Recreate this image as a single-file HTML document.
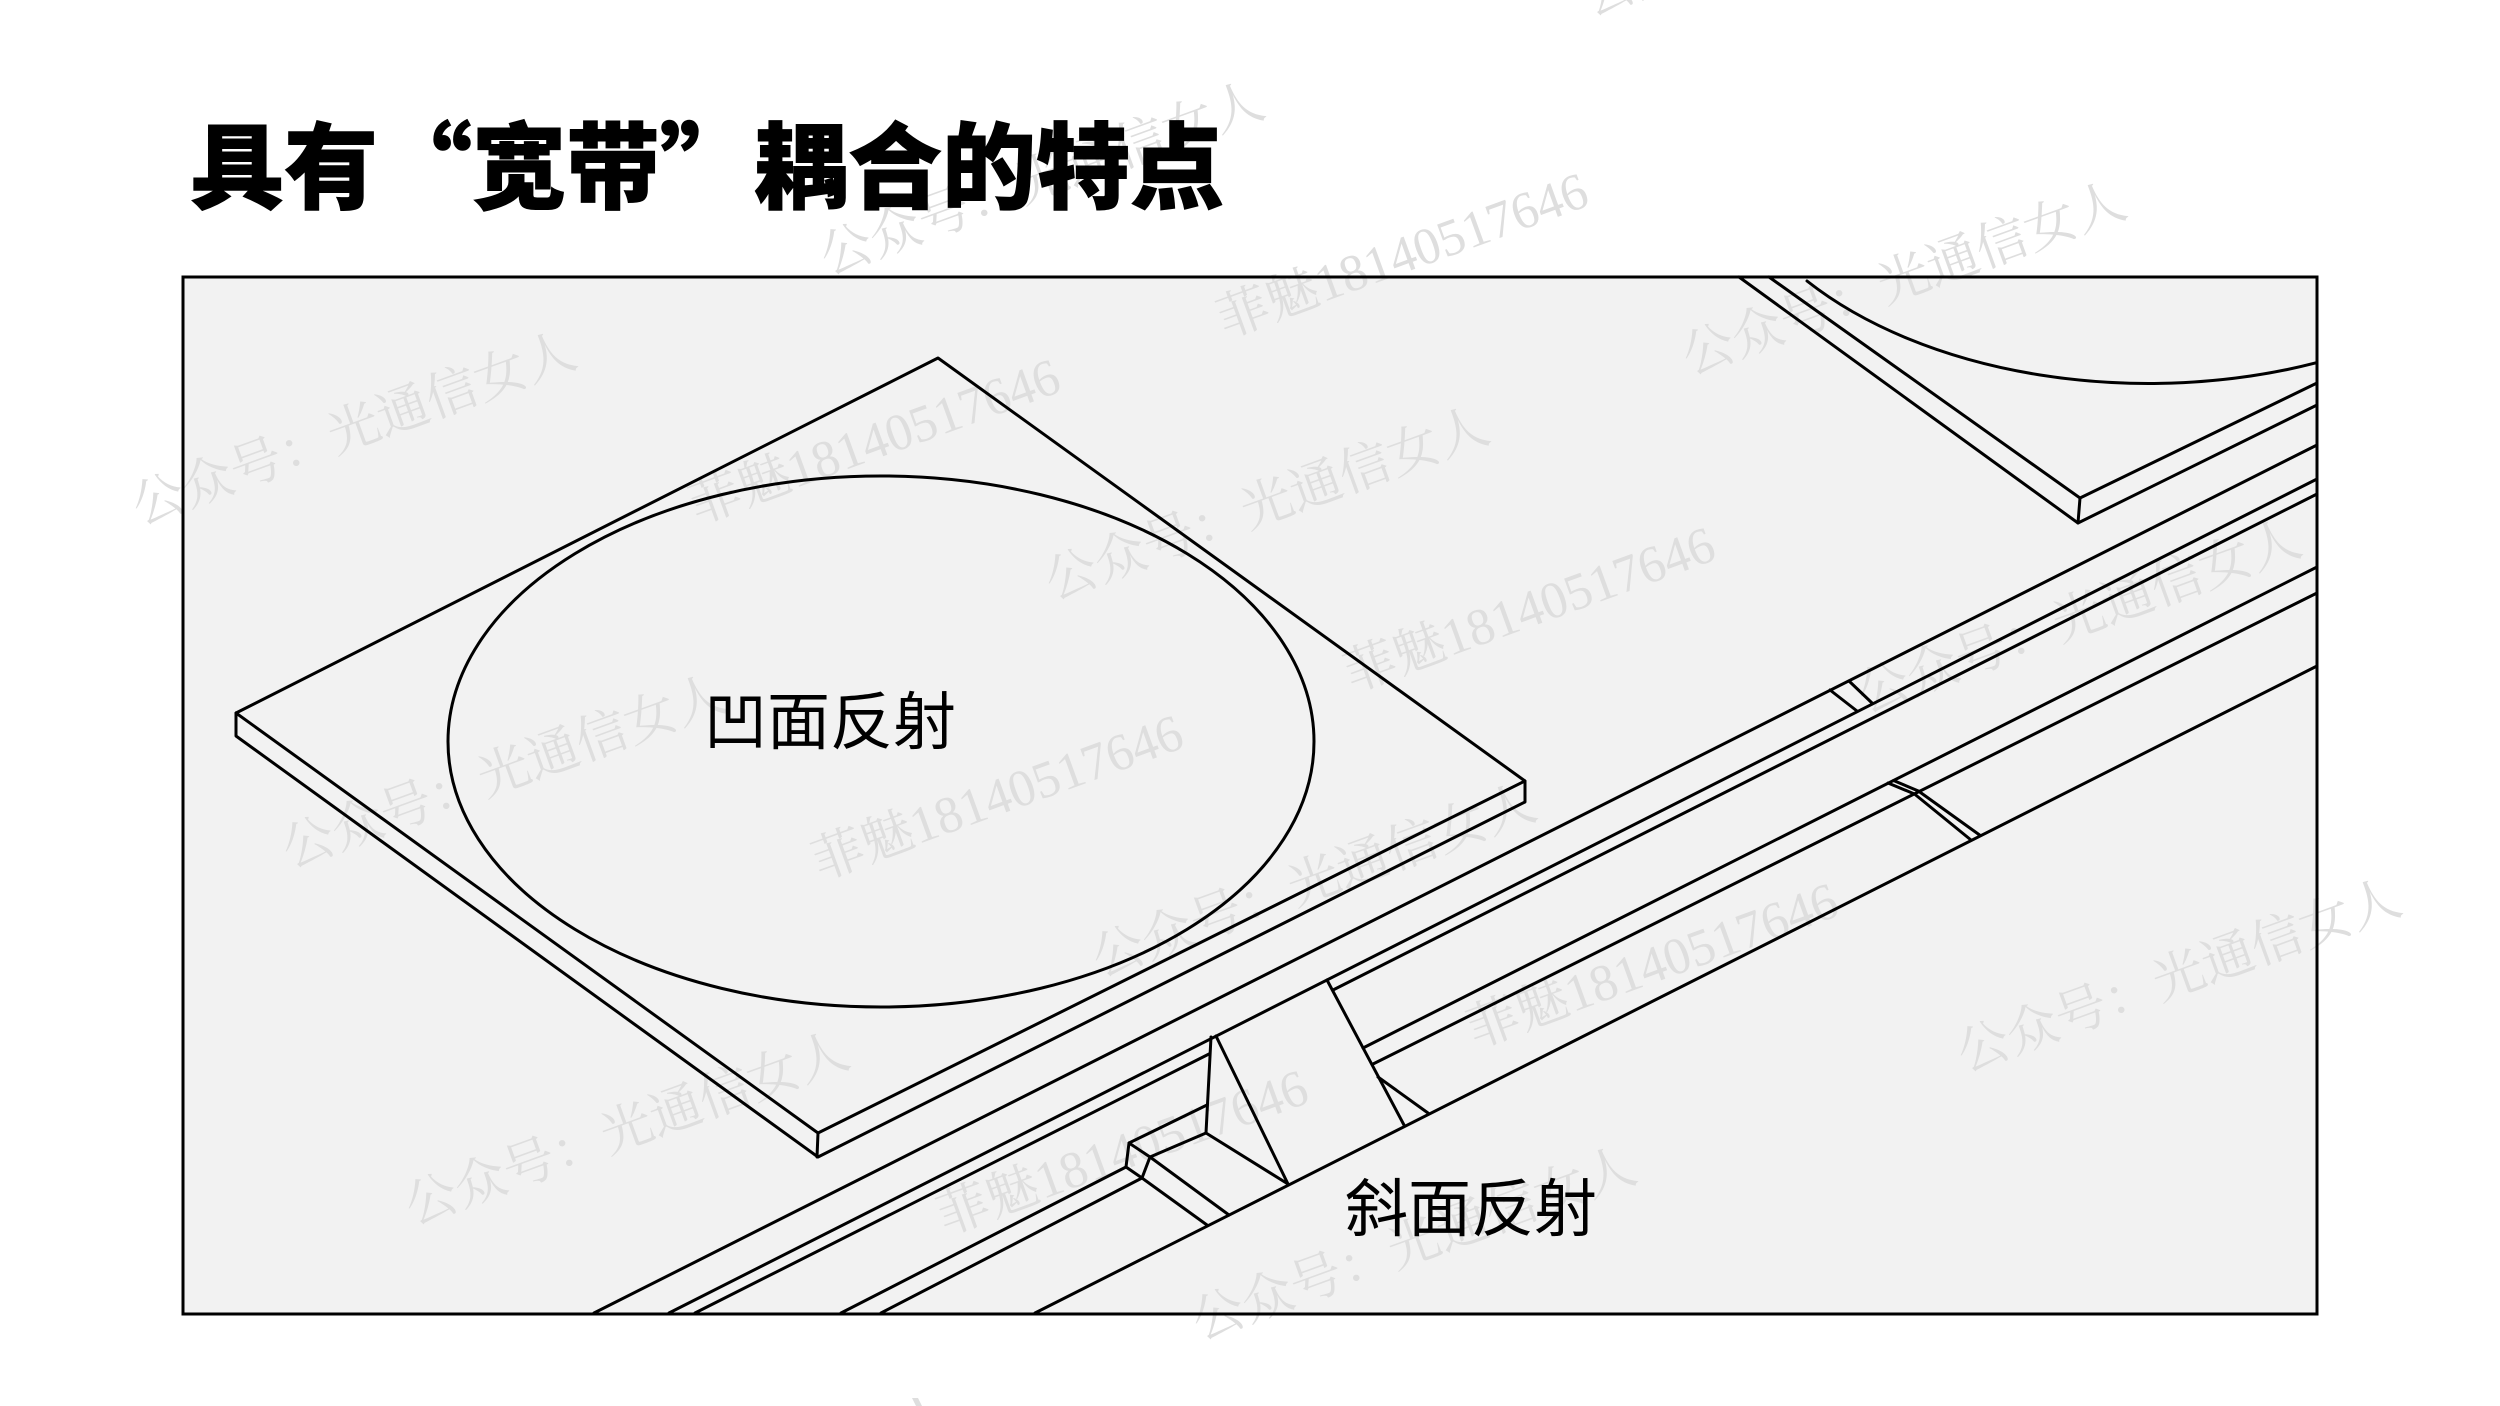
<!DOCTYPE html>
<html lang="zh">
<head>
<meta charset="utf-8">
<style>
html,body{margin:0;padding:0;background:#fff;width:2500px;height:1406px;overflow:hidden}
svg{display:block}
.t{font-family:"Liberation Sans","Noto Sans CJK SC",sans-serif;fill:#000}
.title{font-family:"Noto Sans CJK SC",sans-serif;font-weight:900;font-size:94px;fill:#000;stroke:#000;stroke-width:1px}
.w{font-family:"Liberation Serif","Noto Serif CJK SC",serif;font-size:52px;fill:#dedede}
.l{stroke:#000;stroke-width:3;fill:none;stroke-linejoin:round;stroke-linecap:round}
</style>
</head>
<body>
<svg width="2500" height="1406" viewBox="0 0 2500 1406" xmlns="http://www.w3.org/2000/svg">
<rect width="2500" height="1406" fill="#fff"/>
<rect x="183" y="277" width="2134" height="1037" fill="#f2f2f2"/>

<g class="w">
<text transform="translate(140,525) rotate(-20)">公众号：光通信女人</text>
<text transform="translate(290,868) rotate(-20)">公众号：光通信女人</text>
<text transform="translate(413,1225) rotate(-20)">公众号：光通信女人</text>
<text transform="translate(1053,600) rotate(-20)">公众号：光通信女人</text>
<text transform="translate(828,275) rotate(-20)">公众号：光通信女人</text>
<text transform="translate(1690,375) rotate(-20)">公众号：光通信女人</text>
<text transform="translate(1865,713) rotate(-20)">公众号：光通信女人</text>
<text transform="translate(1100,977) rotate(-20)">公众号：光通信女人</text>
<text transform="translate(1965,1072) rotate(-20)">公众号：光通信女人</text>
<text transform="translate(1200,1340) rotate(-20)">公众号：光通信女人</text>
<text transform="translate(1590,16) rotate(-20)">公众号：光通信女人</text>
<text transform="translate(697,524) rotate(-20)">菲魅18140517646</text>
<text transform="translate(1225,338) rotate(-20)">菲魅18140517646</text>
<text transform="translate(1352,692) rotate(-20)">菲魅18140517646</text>
<text transform="translate(820,880) rotate(-20)">菲魅18140517646</text>
<text transform="translate(945,1235) rotate(-20)">菲魅18140517646</text>
<text transform="translate(1475,1048) rotate(-20)">菲魅18140517646</text>
</g>
<polygon points="912,1398 918,1398 922,1406 916,1406" fill="#dedede"/>

<rect x="183" y="277" width="2134" height="1037" fill="none" stroke="#000" stroke-width="3"/>

<g class="l">
<!-- left plate -->
<path d="M938,358 L236,713 L236,736 L818,1157 L1525,802 L1525,781 Z"/>
<path d="M236,713 L818,1133 L1525,781"/>
<path d="M818,1133 L817,1157"/>
<ellipse cx="881" cy="741.500" rx="433" ry="265.500"/>

<!-- upper right plate -->
<path d="M1739,277 L2078,523 L2317,405"/>
<path d="M1769,277 L2080,498 L2317,383"/>
<path d="M2080,498 L2078,523"/>
<path d="M1807,281 A433,265.500 0 0 0 2317,362.600"/>

<!-- long rails -->
<path d="M594,1313 L2317,445"/>
<path d="M669,1313 L2317,479"/>
<path d="M695,1313 L1209,1054"/>
<path d="M1333,990 L2317,494"/>
<path d="M1363,1048 L2317,567"/>
<path d="M1373,1064 L2317,593"/>
<path d="M1035,1313 L2317,666"/>
<path d="M841,1313 L1126,1167"/>
<path d="M881,1313 L1142,1178"/>

<!-- upper cross strips -->
<path d="M1849,681 L1872,703"/>
<path d="M1830,690 L1857,711"/>

<!-- right cross strips -->
<path d="M1888,783 L1914.500,794 L1971,840"/>
<path d="M1893.500,780.500 L1918.400,791 L1979.600,835"/>

<!-- central block -->
<path d="M1129,1143 L1126,1167 L1142,1178 L1150,1157 Z"/>
<path d="M1129,1143 L1207,1105"/>
<path d="M1150,1157 L1206,1133"/>
<path d="M1211,1037 L1206,1133 L1288,1184 L1216,1036"/>
<path d="M1142,1178 L1207,1225"/>
<path d="M1150,1157 L1229,1215"/>
<path d="M1327,980 L1404,1125"/>
<path d="M1378,1077 L1428,1113"/>
</g>

<text class="title" x="190" y="201">具有“宽带”耦合的特点</text>
<text class="t" x="704" y="744" font-size="63">凹面反射</text>
<text class="t" x="1345" y="1231" font-size="63">斜面反射</text>
</svg>
</body>
</html>
